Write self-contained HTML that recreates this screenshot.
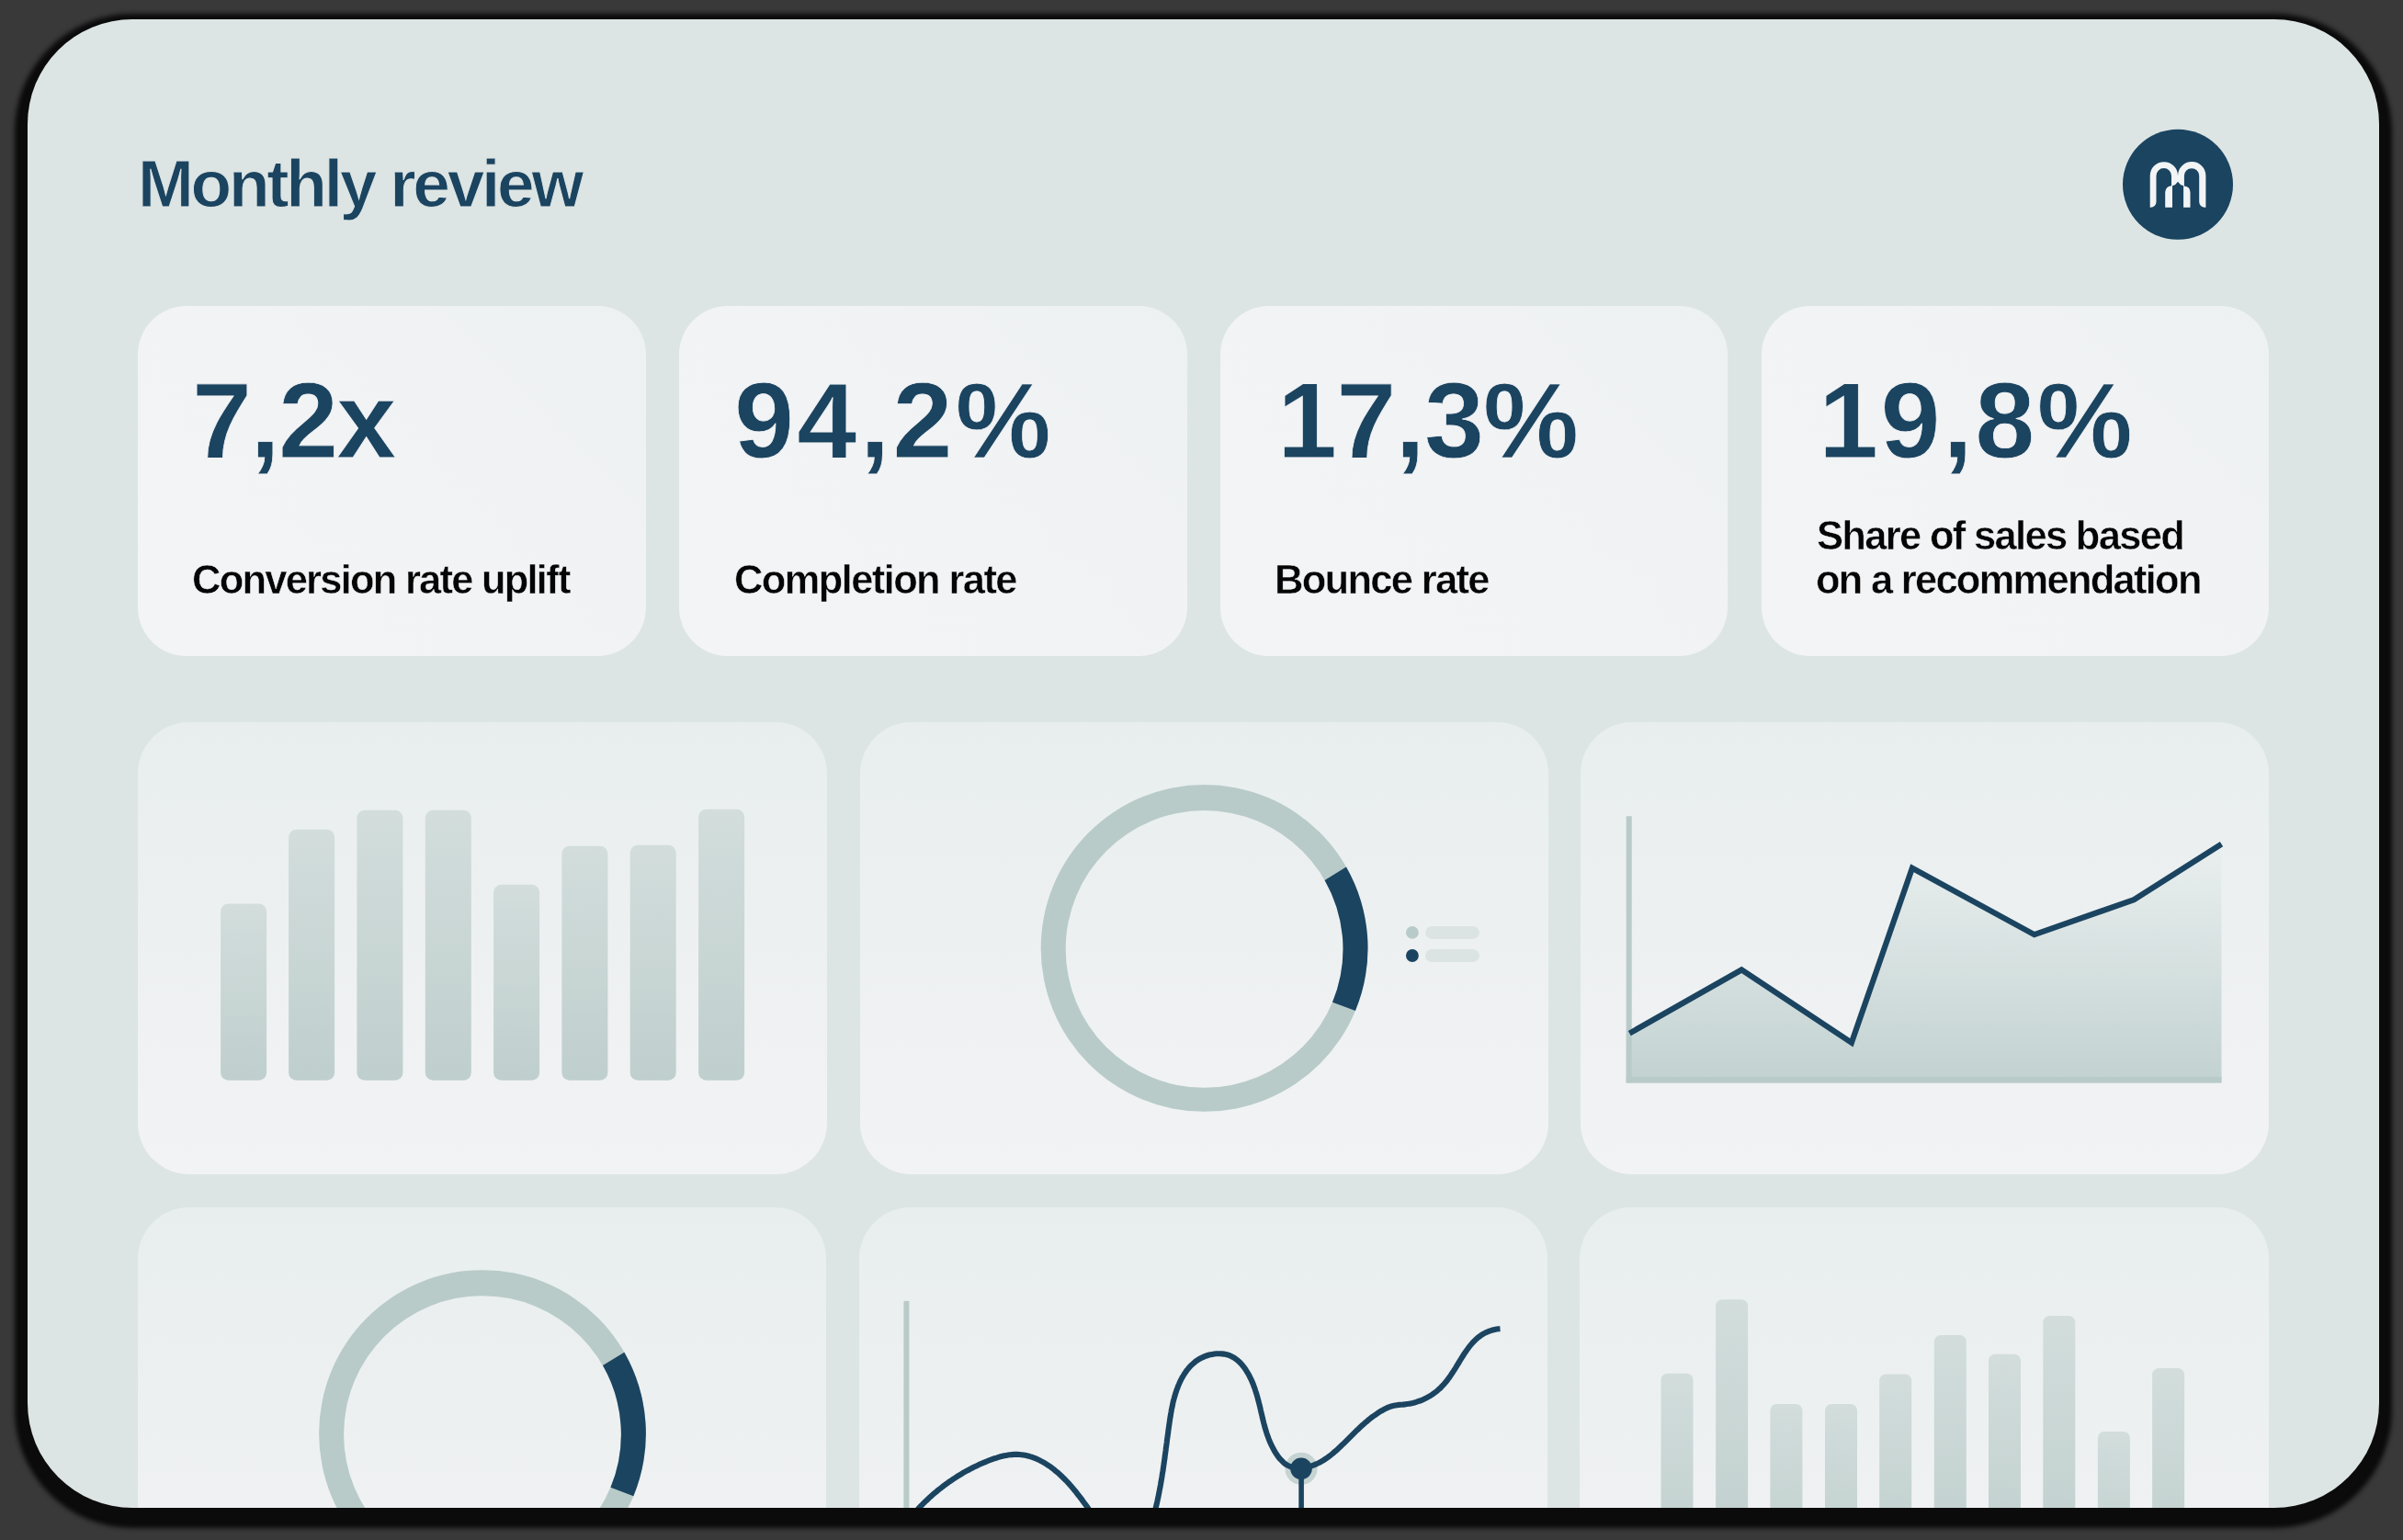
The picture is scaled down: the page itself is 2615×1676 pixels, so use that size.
<!DOCTYPE html>
<html>
<head>
<meta charset="utf-8">
<style>
html,body{margin:0;padding:0;}
body{width:2615px;height:1676px;background:#393939;position:relative;overflow:hidden;font-family:"Liberation Sans",sans-serif;}
#panel{position:absolute;left:30px;top:21px;width:2559px;height:1620px;border-radius:114px;background:#dde5e4;box-shadow:0 8px 5px 14px #0b0b0b;overflow:hidden;}
.abs{position:absolute;}
.val,.lab,#title{will-change:transform;}
#title{position:absolute;left:120px;top:136.8px;letter-spacing:-3.24px;-webkit-text-stroke:1px #dde5e4;font-weight:bold;font-size:73px;color:#1b4460;white-space:nowrap;}
.stat{position:absolute;top:312px;width:552.5px;height:381px;border-radius:53px;background:linear-gradient(45deg,#f3f4f6 0%,#f2f3f5 50%,#edf1f2 100%);}
.val{position:absolute;font-weight:bold;font-size:117px;color:#1b4460;white-space:nowrap;-webkit-text-stroke:0.8px #f2f3f5;}
.lab{position:absolute;font-weight:bold;font-size:43.5px;color:#050505;white-space:nowrap;-webkit-text-stroke:0.5px #f2f3f5;}
.chart{position:absolute;width:749px;height:492px;border-radius:56px;background:linear-gradient(180deg,#e8eeee 0%,#edf0f1 45%,#f2f3f5 100%);}
#ov{position:absolute;left:-30px;top:-21px;}
</style>
</head>
<body>
<div id="panel">
  <div id="title">Monthly review</div>

  <div class="stat" style="left:120px"></div>
  <div class="stat" style="left:709px"></div>
  <div class="stat" style="left:1297.5px"></div>
  <div class="stat" style="left:1886.5px"></div>
  <div class="val" style="left:178.6px;top:368.5px;letter-spacing:-1.77px">7,2x</div>
  <div class="val" style="left:768.6px;top:368.5px;letter-spacing:3.25px">94,2%</div>
  <div class="val" style="left:1359.6px;top:368.5px;letter-spacing:-0.9px">17,3%</div>
  <div class="val" style="left:1948.5px;top:368.5px;letter-spacing:2.53px">19,8%</div>
  <div class="lab" style="left:179px;top:586px;letter-spacing:-1.77px">Conversion rate uplift</div>
  <div class="lab" style="left:768.5px;top:586px;letter-spacing:-1.62px">Completion rate</div>
  <div class="lab" style="left:1357px;top:586px;letter-spacing:-1.69px">Bounce rate</div>
  <div class="lab" style="left:1946.5px;top:538px;letter-spacing:-1.68px">Share of sales based</div>
  <div class="lab" style="left:1945.5px;top:586px;letter-spacing:-1.75px">on a recommendation</div>

  <div class="chart" style="left:120px;top:765px;width:750px"></div>
  <div class="chart" style="left:906px;top:765px"></div>
  <div class="chart" style="left:1690px;top:765px"></div>

  <div class="chart" style="left:120px;top:1293px"></div>
  <div class="chart" style="left:905px;top:1293px"></div>
  <div class="chart" style="left:1689.3px;top:1293px;width:749.8px"></div>
<svg id="ov" width="2615" height="1676" viewBox="0 0 2615 1676">
<defs>
<linearGradient id="gbar" x1="0" y1="0" x2="0" y2="1"><stop offset="0" stop-color="#d2dddc"/><stop offset="1" stop-color="#bfcfcd"/></linearGradient>
<linearGradient id="garea" gradientUnits="userSpaceOnUse" x1="0" y1="918" x2="0" y2="1178"><stop offset="0" stop-color="#eaefef"/><stop offset="1" stop-color="#c2d2d1"/></linearGradient>
</defs>
<rect x="240.1" y="983.5" width="50" height="192.3" rx="8.5" fill="url(#gbar)"/>
<rect x="314.1" y="902.8" width="50" height="273.0" rx="8.5" fill="url(#gbar)"/>
<rect x="388.4" y="881.8" width="50" height="294.0" rx="8.5" fill="url(#gbar)"/>
<rect x="462.8" y="881.8" width="50" height="294.0" rx="8.5" fill="url(#gbar)"/>
<rect x="537.1" y="962.7" width="50" height="213.1" rx="8.5" fill="url(#gbar)"/>
<rect x="611.4" y="920.7" width="50" height="255.1" rx="8.5" fill="url(#gbar)"/>
<rect x="685.7" y="919.7" width="50" height="256.1" rx="8.5" fill="url(#gbar)"/>
<rect x="760.1" y="880.8" width="50" height="295.0" rx="8.5" fill="url(#gbar)"/>
<path d="M1132.70 1031.90 A177.9 177.9 0 1 0 1488.50 1031.90 A177.9 177.9 0 1 0 1132.70 1031.90 Z M1159.70 1032.90 A150.9 150.9 0 1 0 1461.50 1032.90 A150.9 150.9 0 1 0 1159.70 1032.90 Z" fill="#b8cbc9" fill-rule="evenodd"/>
<path d="M1464.98 943.49 A177.9 177.9 0 0 1 1474.96 1099.98 L1450.01 1090.65 A150.9 150.9 0 0 0 1441.55 957.91 Z" fill="#1b4460"/>
<circle cx="1536.9" cy="1014.9" r="6.9" fill="#b8cbc9"/>
<circle cx="1536.9" cy="1040" r="6.9" fill="#1b4460"/>
<rect x="1551" y="1007.9" width="59" height="14" rx="7" fill="#dce4e3"/>
<rect x="1551" y="1033.1" width="59" height="14" rx="7" fill="#dce4e3"/>
<path d="M1769.7 1178.4 L1769.7 1125 L1773.3 1124.6 L1895.2 1055.5 L2014.9 1134.8 L2080.9 944.8 L2213.8 1017.1 L2322.2 979.2 L2417.5 918.7 L2417.5 1178.4 Z" fill="url(#garea)"/>
<rect x="1769.7" y="888.2" width="6" height="290.2" fill="#b8cbc9"/>
<rect x="1769.7" y="1172" width="647.8" height="6.4" fill="#b8cbc9"/>
<polyline points="1773.3,1124.6 1895.2,1055.5 2014.9,1134.8 2080.9,944.8 2213.8,1017.1 2322.2,979.2 2417.5,918.7" fill="none" stroke="#1b4460" stroke-width="6.2" stroke-linejoin="miter" stroke-linecap="butt"/>
<path d="M347.10 1560.10 A177.9 177.9 0 1 0 702.90 1560.10 A177.9 177.9 0 1 0 347.10 1560.10 Z M374.10 1561.10 A150.9 150.9 0 1 0 675.90 1561.10 A150.9 150.9 0 1 0 374.10 1561.10 Z" fill="#b8cbc9" fill-rule="evenodd"/>
<path d="M679.38 1471.69 A177.9 177.9 0 0 1 689.36 1628.18 L664.41 1618.85 A150.9 150.9 0 0 0 655.95 1486.11 Z" fill="#1b4460"/>
<rect x="983.4" y="1415.9" width="6" height="260" fill="#b8cbc9"/>
<circle cx="1416" cy="1598.3" r="17.6" fill="#c5d3d2"/>
<path d="M968.1 1690.0 L968.9 1688.1 L969.7 1686.1 L970.6 1684.2 L971.5 1682.3 L972.4 1680.4 L973.3 1678.6 L974.3 1676.7 L975.3 1674.8 L976.4 1673.0 L977.4 1671.2 L978.5 1669.4 L979.6 1667.6 L980.7 1665.8 L981.9 1664.0 L983.1 1662.3 L984.3 1660.6 L985.5 1658.8 L986.7 1657.1 L988.0 1655.4 L989.3 1653.8 L990.6 1652.1 L991.9 1650.5 L993.3 1648.8 L994.6 1647.2 L996.0 1645.6 L997.4 1644.0 L998.8 1642.5 L1000.3 1640.9 L1001.7 1639.4 L1003.2 1637.9 L1004.7 1636.4 L1006.2 1634.9 L1007.7 1633.4 L1009.3 1631.9 L1010.8 1630.5 L1012.4 1629.1 L1013.9 1627.7 L1015.5 1626.3 L1017.1 1624.9 L1018.8 1623.6 L1020.4 1622.2 L1022.0 1620.9 L1023.7 1619.6 L1025.3 1618.3 L1027.0 1617.0 L1028.7 1615.8 L1030.4 1614.6 L1032.1 1613.3 L1033.8 1612.1 L1035.5 1611.0 L1037.2 1609.8 L1038.9 1608.7 L1040.7 1607.5 L1042.4 1606.4 L1044.2 1605.3 L1045.9 1604.3 L1047.7 1603.2 L1049.5 1602.2 L1051.3 1601.2 L1053.1 1600.2 L1055.0 1599.2 L1056.8 1598.2 L1058.7 1597.2 L1060.6 1596.3 L1062.5 1595.4 L1064.4 1594.5 L1066.3 1593.6 L1068.3 1592.7 L1070.2 1591.9 L1072.2 1591.1 L1074.2 1590.2 L1076.3 1589.4 L1078.3 1588.7 L1080.4 1587.9 L1082.4 1587.2 L1084.5 1586.6 L1086.6 1585.9 L1088.7 1585.3 L1090.8 1584.8 L1092.9 1584.3 L1095.0 1583.9 L1097.1 1583.6 L1099.2 1583.3 L1101.3 1583.1 L1103.4 1582.9 L1105.5 1582.9 L1107.5 1582.9 L1109.6 1583.0 L1111.6 1583.2 L1113.6 1583.5 L1115.6 1583.8 L1117.6 1584.2 L1119.6 1584.7 L1121.5 1585.3 L1123.5 1585.9 L1125.4 1586.7 L1127.3 1587.4 L1129.2 1588.2 L1131.1 1589.1 L1132.9 1590.1 L1134.8 1591.1 L1136.6 1592.1 L1138.4 1593.2 L1140.2 1594.4 L1141.9 1595.6 L1143.7 1596.8 L1145.4 1598.1 L1147.1 1599.4 L1148.7 1600.8 L1150.4 1602.1 L1152.0 1603.5 L1153.6 1605.0 L1155.2 1606.5 L1156.7 1608.0 L1158.3 1609.5 L1159.8 1611.0 L1161.2 1612.5 L1162.7 1614.1 L1164.1 1615.7 L1165.5 1617.3 L1166.9 1618.9 L1168.2 1620.5 L1169.5 1622.1 L1170.9 1623.7 L1172.1 1625.3 L1173.4 1627.0 L1174.7 1628.6 L1175.9 1630.2 L1177.2 1631.9 L1178.4 1633.6 L1179.6 1635.2 L1180.8 1636.9 L1182.1 1638.6 L1183.3 1640.3 L1184.5 1642.0 L1185.7 1643.6 L1187.0 1645.3 L1188.2 1647.0 L1189.4 1648.7 L1190.7 1650.4 L1191.9 1652.1 L1193.2 1653.8 L1194.5 1655.5 L1195.8 1657.2 L1197.1 1658.9 L1198.5 1660.6 L1199.8 1662.3 L1201.2 1664.0 L1202.7 1665.7 L1204.1 1667.3 L1205.6 1668.9 L1207.2 1670.4 L1208.7 1671.9 L1210.4 1673.3 L1212.1 1674.6 L1213.8 1675.7 L1215.7 1676.7 L1217.5 1677.6 L1219.5 1678.4 L1221.6 1678.9 L1223.6 1679.3 L1225.7 1679.6 L1227.8 1679.6 L1229.9 1679.4 L1232.0 1679.1 L1234.0 1678.6 L1235.9 1677.8 L1237.8 1676.9 L1239.5 1675.8 L1241.2 1674.5 L1242.7 1673.1 L1244.2 1671.5 L1245.6 1669.9 L1246.9 1668.1 L1248.1 1666.3 L1249.2 1664.5 L1250.2 1662.6 L1251.2 1660.7 L1252.1 1658.7 L1252.9 1656.8 L1253.7 1654.8 L1254.4 1652.8 L1255.1 1650.8 L1255.7 1648.8 L1256.3 1646.7 L1256.8 1644.7 L1257.3 1642.6 L1257.8 1640.6 L1258.3 1638.5 L1258.8 1636.5 L1259.3 1634.4 L1259.7 1632.3 L1260.2 1630.3 L1260.6 1628.2 L1261.0 1626.1 L1261.4 1624.1 L1261.8 1622.0 L1262.2 1619.9 L1262.6 1617.9 L1263.0 1615.8 L1263.3 1613.7 L1263.7 1611.7 L1264.0 1609.6 L1264.4 1607.5 L1264.7 1605.4 L1265.0 1603.4 L1265.4 1601.3 L1265.7 1599.2 L1266.0 1597.1 L1266.3 1595.1 L1266.6 1593.0 L1266.9 1590.9 L1267.2 1588.8 L1267.5 1586.8 L1267.7 1584.7 L1268.0 1582.6 L1268.3 1580.5 L1268.6 1578.4 L1268.8 1576.3 L1269.1 1574.3 L1269.4 1572.2 L1269.7 1570.1 L1269.9 1568.0 L1270.2 1565.9 L1270.5 1563.8 L1270.8 1561.8 L1271.1 1559.7 L1271.3 1557.6 L1271.6 1555.5 L1271.9 1553.4 L1272.2 1551.3 L1272.5 1549.2 L1272.8 1547.1 L1273.1 1545.0 L1273.4 1543.0 L1273.8 1540.9 L1274.1 1538.8 L1274.5 1536.7 L1274.8 1534.6 L1275.2 1532.6 L1275.7 1530.5 L1276.1 1528.4 L1276.5 1526.4 L1277.0 1524.3 L1277.6 1522.3 L1278.1 1520.3 L1278.7 1518.3 L1279.3 1516.3 L1280.0 1514.3 L1280.6 1512.3 L1281.4 1510.3 L1282.1 1508.4 L1283.0 1506.4 L1283.8 1504.5 L1284.7 1502.6 L1285.7 1500.7 L1286.7 1498.8 L1287.8 1497.0 L1288.9 1495.2 L1290.1 1493.4 L1291.3 1491.7 L1292.6 1490.1 L1293.9 1488.4 L1295.3 1486.9 L1296.8 1485.4 L1298.4 1484.0 L1300.0 1482.6 L1301.6 1481.3 L1303.4 1480.1 L1305.2 1479.0 L1307.0 1478.0 L1309.0 1477.1 L1311.0 1476.2 L1313.0 1475.5 L1315.1 1474.8 L1317.1 1474.3 L1319.3 1473.9 L1321.4 1473.5 L1323.5 1473.3 L1325.7 1473.2 L1327.8 1473.2 L1329.9 1473.4 L1331.9 1473.6 L1334.0 1474.0 L1336.0 1474.5 L1337.9 1475.2 L1339.8 1476.0 L1341.6 1476.9 L1343.3 1477.9 L1345.0 1479.1 L1346.6 1480.4 L1348.2 1481.8 L1349.7 1483.2 L1351.1 1484.8 L1352.5 1486.4 L1353.8 1488.1 L1355.0 1489.8 L1356.2 1491.6 L1357.4 1493.5 L1358.4 1495.3 L1359.5 1497.2 L1360.4 1499.1 L1361.4 1501.1 L1362.3 1503.0 L1363.1 1505.0 L1363.9 1506.9 L1364.6 1508.9 L1365.4 1510.9 L1366.0 1512.9 L1366.7 1514.9 L1367.3 1516.9 L1367.9 1518.9 L1368.5 1521.0 L1369.0 1523.0 L1369.6 1525.0 L1370.1 1527.1 L1370.6 1529.1 L1371.1 1531.1 L1371.6 1533.2 L1372.0 1535.2 L1372.5 1537.2 L1373.0 1539.2 L1373.5 1541.3 L1373.9 1543.3 L1374.4 1545.3 L1374.9 1547.3 L1375.4 1549.3 L1376.0 1551.4 L1376.5 1553.4 L1377.1 1555.4 L1377.7 1557.4 L1378.3 1559.4 L1379.0 1561.4 L1379.7 1563.3 L1380.4 1565.3 L1381.2 1567.3 L1382.0 1569.2 L1382.9 1571.2 L1383.8 1573.2 L1384.8 1575.1 L1385.8 1577.0 L1386.8 1579.0 L1388.0 1580.9 L1389.2 1582.7 L1390.4 1584.5 L1391.7 1586.3 L1393.1 1587.9 L1394.6 1589.5 L1396.1 1591.0 L1397.6 1592.3 L1399.3 1593.6 L1401.0 1594.6 L1402.8 1595.6 L1404.6 1596.3 L1406.5 1596.9 L1408.5 1597.3 L1410.5 1597.6 L1412.6 1597.7 L1414.7 1597.7 L1416.8 1597.6 L1418.9 1597.4 L1421.0 1597.0 L1423.1 1596.6 L1425.1 1596.0 L1427.2 1595.4 L1429.2 1594.7 L1431.1 1593.9 L1433.1 1593.1 L1435.0 1592.1 L1436.8 1591.2 L1438.6 1590.2 L1440.4 1589.1 L1442.2 1587.9 L1443.9 1586.8 L1445.6 1585.5 L1447.3 1584.3 L1448.9 1583.0 L1450.6 1581.6 L1452.2 1580.2 L1453.8 1578.9 L1455.4 1577.4 L1456.9 1576.0 L1458.5 1574.5 L1460.0 1573.0 L1461.6 1571.6 L1463.1 1570.1 L1464.6 1568.6 L1466.1 1567.1 L1467.6 1565.6 L1469.1 1564.1 L1470.6 1562.6 L1472.1 1561.1 L1473.6 1559.6 L1475.1 1558.1 L1476.7 1556.6 L1478.2 1555.2 L1479.7 1553.7 L1481.2 1552.3 L1482.8 1550.9 L1484.4 1549.5 L1485.9 1548.1 L1487.5 1546.8 L1489.1 1545.4 L1490.7 1544.1 L1492.4 1542.8 L1494.1 1541.6 L1495.7 1540.4 L1497.5 1539.2 L1499.2 1538.0 L1500.9 1536.8 L1502.7 1535.7 L1504.6 1534.7 L1506.4 1533.7 L1508.3 1532.8 L1510.2 1531.9 L1512.1 1531.1 L1514.1 1530.5 L1516.1 1529.9 L1518.2 1529.5 L1520.3 1529.2 L1522.4 1528.9 L1524.6 1528.7 L1526.7 1528.6 L1528.8 1528.4 L1531.0 1528.1 L1533.1 1527.8 L1535.1 1527.4 L1537.2 1527.0 L1539.2 1526.5 L1541.2 1525.9 L1543.2 1525.2 L1545.2 1524.5 L1547.1 1523.8 L1549.0 1523.0 L1550.9 1522.1 L1552.7 1521.1 L1554.5 1520.1 L1556.3 1519.1 L1558.1 1518.0 L1559.8 1516.8 L1561.4 1515.6 L1563.1 1514.3 L1564.7 1513.0 L1566.2 1511.6 L1567.8 1510.2 L1569.2 1508.7 L1570.7 1507.2 L1572.1 1505.6 L1573.4 1504.0 L1574.8 1502.3 L1576.0 1500.6 L1577.3 1498.9 L1578.5 1497.1 L1579.7 1495.3 L1580.9 1493.5 L1582.1 1491.7 L1583.3 1489.8 L1584.4 1488.0 L1585.5 1486.1 L1586.7 1484.3 L1587.8 1482.4 L1588.9 1480.5 L1590.1 1478.7 L1591.2 1476.9 L1592.4 1475.0 L1593.5 1473.2 L1594.7 1471.5 L1595.9 1469.7 L1597.2 1468.0 L1598.4 1466.3 L1599.7 1464.7 L1601.0 1463.1 L1602.3 1461.6 L1603.7 1460.1 L1605.1 1458.6 L1606.6 1457.3 L1608.1 1455.9 L1609.7 1454.7 L1611.3 1453.5 L1613.0 1452.4 L1614.7 1451.4 L1616.5 1450.4 L1618.4 1449.6 L1620.3 1448.8 L1622.3 1448.1 L1624.3 1447.5 L1626.5 1447.0 L1628.6 1446.6 L1630.8 1446.3 L1632.5 1446.2" fill="none" stroke="#1b4460" stroke-width="6.1" stroke-linecap="butt"/>
<rect x="1413.3" y="1598" width="5.6" height="80" fill="#1b4460"/>
<circle cx="1416" cy="1598.3" r="11.8" fill="#1b4460"/>
<rect x="1807.5" y="1494.7" width="35" height="209.3" rx="7" fill="url(#gbar)"/>
<rect x="1867.1" y="1414.2" width="35" height="289.8" rx="7" fill="url(#gbar)"/>
<rect x="1926.4" y="1528" width="35" height="176.0" rx="7" fill="url(#gbar)"/>
<rect x="1986" y="1528" width="35" height="176.0" rx="7" fill="url(#gbar)"/>
<rect x="2045.2" y="1495.4" width="35" height="208.6" rx="7" fill="url(#gbar)"/>
<rect x="2104.8" y="1453.1" width="35" height="250.9" rx="7" fill="url(#gbar)"/>
<rect x="2164" y="1473.8" width="35" height="230.2" rx="7" fill="url(#gbar)"/>
<rect x="2223.3" y="1432.1" width="35" height="271.9" rx="7" fill="url(#gbar)"/>
<rect x="2282.9" y="1558" width="35" height="146.0" rx="7" fill="url(#gbar)"/>
<rect x="2342.1" y="1489.1" width="35" height="214.9" rx="7" fill="url(#gbar)"/>
<circle cx="2370" cy="200.8" r="60" fill="#1b4460"/>
<path d="M2339.7 225.7 V191.3 A15.15 15.15 0 0 1 2370.0 191.3 A15.2 15.2 0 0 1 2400.4 191.3 V225.7 H2399.2 A6 6 0 0 1 2393.2 219.7 V191.3 A8.15 8.15 0 0 0 2376.9 191.3 V202.4 A6.6 6.6 0 0 1 2383.5 209 V225.7 H2376.1 V202.3 Q2372.6 201.6 2370.0 197.7 Q2367.5 201.6 2364.0 202.3 V225.7 H2356.2 V209 A6.8 6.8 0 0 1 2363.0 202.2 V191.3 A8.25 8.25 0 0 0 2346.5 191.3 V219.7 A6 6 0 0 1 2340.5 225.7 Z" fill="#f2f4f5"/>
</svg>
</div>
</body>
</html>
